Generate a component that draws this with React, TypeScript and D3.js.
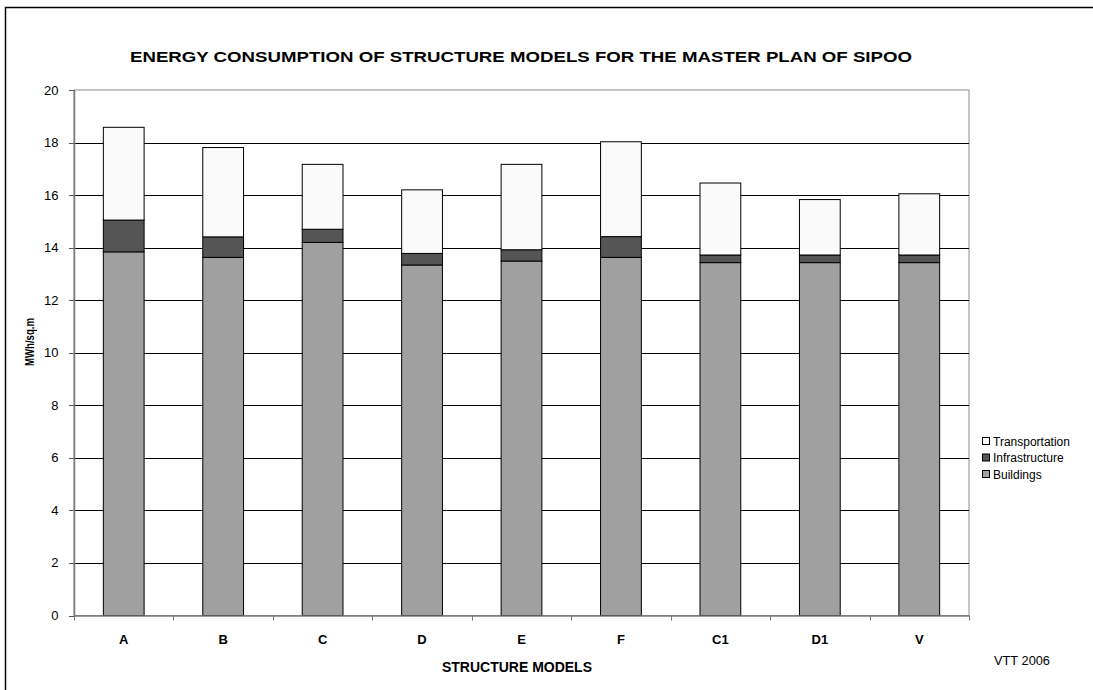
import React from "react";
import * as d3 from "d3";

const models = ["A", "B", "C", "D", "E", "F", "C1", "D1", "V"];
const buildings = [13.84, 13.63, 14.2, 13.34, 13.49, 13.63, 13.43, 13.43, 13.43];
const infrastructure = [1.21, 0.78, 0.5, 0.44, 0.43, 0.79, 0.29, 0.29, 0.29];
const transportation = [3.53, 3.4, 2.47, 2.42, 3.25, 3.61, 2.74, 2.11, 2.33];
const seriesNames = ["Buildings", "Infrastructure", "Transportation"];
const seriesColors = ["#a0a0a0", "#555555", "#fafafa"];
const yTicks = [0, 2, 4, 6, 8, 10, 12, 14, 16, 18, 20];

const W = 1093;
const H = 690;
const left = 74;
const right = 969;
const top = 90;
const bottom = 615.5;
const font = "Liberation Sans, Arial, sans-serif";

export default function App() {
  const rows = models.map((m, i) => ({
    model: m,
    Buildings: buildings[i],
    Infrastructure: infrastructure[i],
    Transportation: transportation[i],
  }));
  const stack = d3.stack<any>().keys(seriesNames)(rows);
  const x = d3.scaleBand().domain(models).range([left, right]).paddingInner(0.59).paddingOuter(0.295);
  const xCat = d3.scaleBand().domain(models).range([left, right]);
  const y = d3.scaleLinear().domain([0, 20]).range([bottom, top]);

  const legendItems = [...seriesNames].reverse();

  return (
    <svg
      width={W}
      height={H}
      style={{ position: "absolute", left: 0, top: 0, background: "#fff" }}
      fontFamily={font}
    >
      <rect x={5.5} y={7.5} width={1100} height={700} fill="#fff" stroke="#000" strokeWidth={1.5} />
      <text
        x={521}
        y={62}
        textAnchor="middle"
        fontSize={15}
        fontWeight="bold"
        textLength={782}
        lengthAdjust="spacingAndGlyphs"
      >
        ENERGY CONSUMPTION OF STRUCTURE MODELS FOR THE MASTER PLAN OF SIPOO
      </text>

      {/* plot frame */}
      <rect x={left} y={top} width={right - left} height={bottom - top} fill="#fff" stroke="#8c8c8c" strokeWidth={1} />

      {/* gridlines */}
      {yTicks.filter((t) => t > 0 && t < 20).map((t) => (
        <line key={t} x1={left} x2={right} y1={Math.round(y(t)) + 0.5} y2={Math.round(y(t)) + 0.5} stroke="#000" strokeWidth={1} />
      ))}

      {/* stacked bars */}
      {stack.map((layer, si) =>
        layer.map((d, i) => {
          const y0 = y(d[0]);
          const y1 = y(d[1]);
          return (
            <rect
              key={`${si}-${i}`}
              x={x(models[i])!}
              y={y1}
              width={x.bandwidth()}
              height={y0 - y1}
              fill={seriesColors[si]}
              stroke="#000"
              strokeWidth={1}
            />
          );
        })
      )}

      {/* y axis */}
      <line x1={left + 0.5} x2={left + 0.5} y1={top} y2={bottom} stroke="#7a7a7a" strokeWidth={1.5} />
      {yTicks.map((t) => (
        <g key={t}>
          <line x1={left - 5} x2={left} y1={Math.round(y(t)) + 0.5} y2={Math.round(y(t)) + 0.5} stroke="#555" />
          <text x={58.5} y={y(t) + 4.5} textAnchor="end" fontSize={13}>
            {t}
          </text>
        </g>
      ))}

      {/* x axis */}
      <line x1={left} x2={right} y1={bottom + 0.5} y2={bottom + 0.5} stroke="#7a7a7a" strokeWidth={1.5} />
      {models.map((m) => (
        <line
          key={`t${m}`}
          x1={Math.round(xCat(m)!) + 0.5}
          x2={Math.round(xCat(m)!) + 0.5}
          y1={bottom}
          y2={bottom + 5}
          stroke="#777"
        />
      ))}
      <line x1={right + 0.5} x2={right + 0.5} y1={bottom} y2={bottom + 5} stroke="#777" />
      {models.map((m) => (
        <text key={m} x={xCat(m)! + xCat.bandwidth() / 2} y={644} textAnchor="middle" fontSize={13} fontWeight="bold">
          {m}
        </text>
      ))}

      <text
        x={517}
        y={672}
        textAnchor="middle"
        fontSize={14}
        fontWeight="bold"
        textLength={150}
        lengthAdjust="spacingAndGlyphs"
      >
        STRUCTURE MODELS
      </text>
      <text
        transform="translate(34,342) rotate(-90)"
        textAnchor="middle"
        fontSize={13}
        fontWeight="bold"
        textLength={48}
        lengthAdjust="spacingAndGlyphs"
      >
        MWh/sq.m
      </text>

      <text x={994} y={665} fontSize={13} textLength={56} lengthAdjust="spacingAndGlyphs">
        VTT 2006
      </text>

      {/* legend */}
      {legendItems.map((name, i) => {
        const si = seriesNames.indexOf(name);
        const cy = 441 + i * 16.5;
        return (
          <g key={name}>
            <rect x={982.5} y={cy - 3.5} width={7} height={7} fill={seriesColors[si]} stroke="#000" strokeWidth={1} />
            <text x={993} y={cy + 4.5} fontSize={12}>
              {name}
            </text>
          </g>
        );
      })}
    </svg>
  );
}
